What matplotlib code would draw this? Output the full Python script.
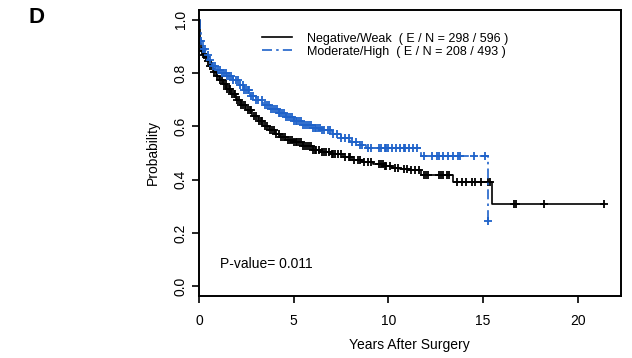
import numpy as np
import matplotlib
matplotlib.use("Agg")
import matplotlib.pyplot as plt

plt.rcParams['font.family'] = ['Liberation Sans', 'DejaVu Sans']

# Kaplan-Meier step data
times_neg = [0, 0.03, 0.07, 0.12, 0.2, 0.3, 0.45, 0.6, 0.75, 0.9, 1.05, 1.25, 1.45, 1.7,
             1.95, 2.2, 2.5, 2.8, 3.1, 3.4, 3.7, 4.0, 4.3, 4.6, 5.0, 5.5, 6.0, 6.5, 7.0,
             7.6, 8.1, 8.6, 9.2, 9.8, 10.2, 10.6, 11.1, 11.7, 13.4, 15.45]
surv_neg = [1.0, 0.95, 0.91, 0.885, 0.87, 0.86, 0.845, 0.825, 0.805, 0.79, 0.775, 0.76,
            0.74, 0.72, 0.70, 0.68, 0.66, 0.64, 0.62, 0.60, 0.585, 0.57, 0.56, 0.55, 0.54,
            0.525, 0.513, 0.503, 0.495, 0.487, 0.475, 0.465, 0.458, 0.45, 0.445, 0.44,
            0.435, 0.418, 0.39, 0.31]
end_neg = 21.4

times_mod = [0, 0.05, 0.1, 0.2, 0.35, 0.5, 0.7, 0.9, 1.2, 1.5, 1.8, 2.1, 2.4, 2.7, 3.0,
             3.4, 3.8, 4.2, 4.6, 5.0, 5.5, 6.0, 6.5, 7.0, 7.5, 8.0, 8.5, 8.8, 11.7, 15.25]
surv_mod = [1.0, 0.96, 0.92, 0.89, 0.87, 0.85, 0.825, 0.81, 0.80, 0.79, 0.775, 0.755,
            0.735, 0.715, 0.70, 0.68, 0.665, 0.65, 0.635, 0.62, 0.605, 0.595, 0.585,
            0.57, 0.555, 0.54, 0.53, 0.52, 0.49, 0.245]
end_mod = 15.25

# censoring times
cens_neg = [0.15, 0.25, 0.35, 0.5, 0.6, 0.7, 0.8, 0.95, 1.1, 1.2, 1.3, 1.4, 1.5, 1.6, 1.65,
            1.75, 1.85, 1.9, 2.0, 2.1, 2.2, 2.3, 2.45, 2.6, 2.7, 2.75, 2.9, 3.0, 3.15, 3.25,
            3.35, 3.5, 3.6, 3.75, 3.85, 3.95, 4.05, 4.2, 4.35, 4.45, 4.55, 4.7, 4.8, 4.9,
            5.0, 5.1, 5.2, 5.3, 5.4, 5.5, 5.6, 5.7, 5.8, 5.9, 6.0, 6.1, 6.2, 6.35, 6.5, 6.6,
            6.7, 6.85, 7.0, 7.1, 7.2, 7.35, 7.5, 7.7, 7.9, 8.0, 8.2, 8.4, 8.5, 8.7, 8.9,
            9.1, 9.5, 9.6, 9.7, 9.8, 9.9, 10.1, 10.35, 10.5, 10.8, 11.0, 11.2, 11.4, 11.6,
            11.9, 12.0, 12.1, 12.7, 12.8, 12.9, 13.1, 13.2, 13.6, 13.9, 14.1, 14.4, 14.6,
            14.9, 15.25, 15.35, 16.65, 16.75, 18.2, 21.4]
cens_mod = [0.1, 0.2, 0.3, 0.45, 0.6, 0.75, 0.85, 1.0, 1.1, 1.2, 1.3, 1.4, 1.5, 1.6, 1.7,
            1.8, 1.95, 2.05, 2.15, 2.3, 2.4, 2.5, 2.6, 2.65, 2.75, 2.85, 3.0, 3.1, 3.3, 3.5,
            3.6, 3.7, 3.8, 3.9, 4.0, 4.1, 4.2, 4.3, 4.4, 4.5, 4.6, 4.7, 4.8, 4.9, 5.0, 5.1,
            5.2, 5.3, 5.4, 5.5, 5.6, 5.7, 5.8, 5.9, 6.0, 6.1, 6.2, 6.3, 6.4, 6.5, 6.6, 6.8,
            6.9, 7.1, 7.3, 7.5, 7.7, 7.9, 8.1, 8.3, 8.5, 8.6, 8.9, 9.1, 9.5, 9.6, 9.8, 9.9,
            10.0, 10.2, 10.4, 10.6, 10.8, 10.9, 11.1, 11.3, 11.5, 11.9, 12.3, 12.55, 12.7,
            12.9, 13.15, 13.4, 13.7, 13.8, 14.5, 15.1, 15.25]

labels = ['Negative/Weak  ( E / N = 298 / 596 )', 'Moderate/High  ( E / N = 208 / 493 )']
colors = ['black', '#1f62c9']
pvalue_text = 'P-value= 0.011'


def surv_at(times, surv, t):
    idx = np.searchsorted(times, t, side='right') - 1
    return np.asarray(surv)[idx]


fig = plt.figure(figsize=(6.32, 3.58), dpi=100)
ax = fig.add_axes([0.3149, 0.1732, 0.6672, 0.7989])

curves = [(times_neg, surv_neg, end_neg, cens_neg, '-'),
          (times_mod, surv_mod, end_mod, cens_mod, '-.')]
for (t, s, end, cens, ls), col, lab in zip(curves, colors, labels):
    tx = list(t) + [end]
    sy = list(s) + [s[-1]]
    line, = ax.step(tx, sy, where='post', color=col, lw=1.2, linestyle=ls, label=lab)
    if ls == '-.':
        line.set_dashes([6, 2.5, 1.5, 2.5])
    ax.plot(cens, surv_at(t, s, cens), '+', color=col, ms=5.5, mew=1.3)

ax.set_xlim(0, 22.27)
ax.set_ylim(-0.036, 1.037)
ax.set_xticks([0, 5, 10, 15, 20])
ax.set_yticks([0.0, 0.2, 0.4, 0.6, 0.8, 1.0])
ax.set_yticklabels(['0.0', '0.2', '0.4', '0.6', '0.8', '1.0'], rotation=90, va='center')
ax.tick_params(axis='both', direction='out', length=5, width=1.2, labelsize=10)
ax.tick_params(axis='x', pad=8)
ax.tick_params(axis='y', pad=3)
for sp in ax.spines.values():
    sp.set_linewidth(1.4)

ax.set_xlabel('Years After Surgery', fontsize=10, labelpad=7)
ax.set_ylabel('Probability', fontsize=10, labelpad=10)

leg = ax.legend(loc='upper left', bbox_to_anchor=(0.149, 0.921), frameon=False,
                fontsize=9, handlelength=2.4, handletextpad=1.2, borderpad=0,
                borderaxespad=0, labelspacing=0.1)

ax.text(0.05, 0.113, pvalue_text, transform=ax.transAxes, fontsize=10, va='center')
fig.text(0.058, 0.952, 'D', fontsize=16, fontweight='bold', va='center', ha='center')

fig.savefig('out.png', dpi=100)
